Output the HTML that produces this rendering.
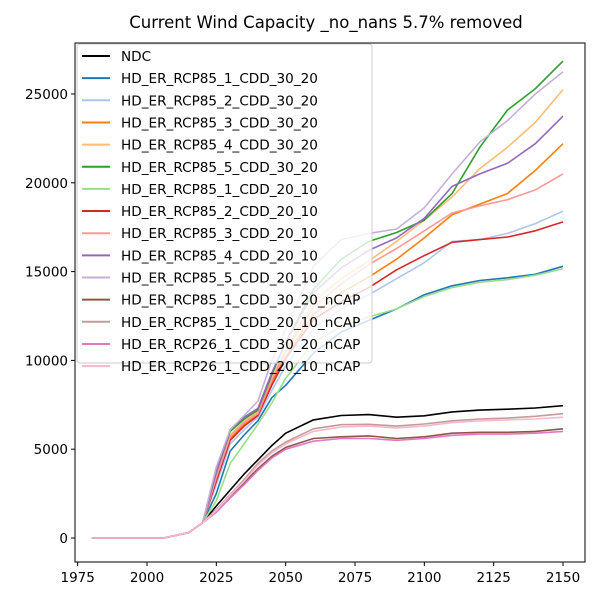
<!DOCTYPE html>
<html><head><meta charset="utf-8"><style>
body{margin:0;background:#fff}
svg text{font-family:"DejaVu Sans","Liberation Sans",sans-serif}
</style></head><body>
<svg id="chart" width="600" height="600" viewBox="0 0 600 600" xmlns="http://www.w3.org/2000/svg">
<rect width="600" height="600" fill="#fff"/>
<text x="326" y="28" font-size="16.5" text-anchor="middle">Current Wind Capacity _no_nans 5.7% removed</text>
<g id="lines"></g>
<rect x="75" y="43" width="510" height="519" fill="none" stroke="#000" stroke-width="1"/>
<g id="axes"></g>
<g id="legend"></g>
</svg>
<script>
const years = [1980,2000,2006,2015,2020,2025,2030,2035,2040,2045,2050,2060,2070,2080,2090,2100,2110,2120,2130,2140,2150];
const seriesNames = ["NDC","HD_ER_RCP85_1_CDD_30_20","HD_ER_RCP85_2_CDD_30_20","HD_ER_RCP85_3_CDD_30_20","HD_ER_RCP85_4_CDD_30_20","HD_ER_RCP85_5_CDD_30_20","HD_ER_RCP85_1_CDD_20_10","HD_ER_RCP85_2_CDD_20_10","HD_ER_RCP85_3_CDD_20_10","HD_ER_RCP85_4_CDD_20_10","HD_ER_RCP85_5_CDD_20_10","HD_ER_RCP85_1_CDD_30_20_nCAP","HD_ER_RCP85_1_CDD_20_10_nCAP","HD_ER_RCP26_1_CDD_30_20_nCAP","HD_ER_RCP26_1_CDD_20_10_nCAP"];
const seriesColors = ["#000000","#1f77b4","#aec7e8","#ff7f0e","#ffbb78","#2ca02c","#98df8a","#d62728","#ff9896","#9467bd","#c5b0d5","#8c564b","#c49c94","#e377c2","#f7b6d2"];
const ndc      = [0,0,0,300,850,1800,2700,3600,4400,5200,5900,6650,6900,6950,6800,6880,7100,7200,7250,7320,7450];
const r85_1_30 = [0,0,0,300,850,2500,4900,5800,6600,7900,8600,10400,11600,12250,12900,13700,14200,14500,14650,14850,15300];
const r85_2_30 = [0,0,0,300,850,3000,5300,6100,6800,8300,9700,11800,12900,13700,14600,15500,16700,16800,17150,17700,18400];
const r85_3_30 = [0,0,0,300,850,3300,5600,6400,7000,8800,10200,12600,13800,14700,15700,16900,18200,18800,19400,20700,22200];
const r85_4_30 = [0,0,0,300,850,3500,5800,6600,7100,9000,10600,13300,14600,15600,16700,17900,19200,20800,22000,23400,25250];
const r85_5_30 = [0,0,0,300,850,3700,6000,6700,7200,9200,11000,14000,15700,16700,17200,17900,19400,22000,24100,25300,26850];
const r85_1_20 = [0,0,0,300,850,2100,4200,5300,6400,7600,9000,11000,11900,12450,12900,13600,14100,14400,14550,14800,15150];
const r85_2_20 = [0,0,0,300,850,3200,5500,6300,6900,8600,10100,12300,13300,14100,15100,15900,16650,16800,16950,17300,17800];
const r85_3_20 = [0,0,0,300,850,3400,5700,6500,7000,8900,10500,13000,14300,15400,16300,17300,18300,18700,19050,19600,20500];
const r85_4_20 = [0,0,0,300,850,3700,6100,6800,7300,9300,11000,13800,15200,16200,16900,18000,19800,20500,21100,22200,23750];
const r85_5_20 = [0,0,0,300,850,4000,6100,6900,7700,10000,11800,15300,16800,17150,17400,18600,20500,22300,23500,25000,26250];
const r85_1_30n= [0,0,0,300,850,1500,2300,3100,3900,4600,5100,5600,5700,5750,5600,5700,5900,5950,5950,6000,6150];
const r85_1_20n= [0,0,0,300,850,1600,2450,3300,4200,4900,5400,6150,6380,6400,6300,6420,6600,6700,6750,6850,7000];
const r26_1_30n= [0,0,0,300,850,1450,2250,3000,3800,4500,5000,5450,5600,5600,5500,5600,5780,5850,5850,5900,6000];
const r26_1_20n= [0,0,0,300,850,1550,2400,3200,4100,4800,5300,6000,6250,6300,6200,6300,6500,6600,6650,6700,6800];
const seriesValues = [ndc,r85_1_30,r85_2_30,r85_3_30,r85_4_30,r85_5_30,r85_1_20,r85_2_20,r85_3_20,r85_4_20,r85_5_20,r85_1_30n,r85_1_20n,r26_1_30n,r26_1_20n];
const xTicks = [1975,2000,2025,2050,2075,2100,2125,2150];
const yTicks = [0,5000,10000,15000,20000,25000];

const NS="http://www.w3.org/2000/svg";
const xScale = y => 147 + (y-2000)*(416/150);
const yScale = v => 538 - v*0.01776;

const lines=document.getElementById('lines');
seriesValues.forEach((vals,i)=>{
  const p=document.createElementNS(NS,'polyline');
  p.setAttribute('points',vals.map((v,j)=>xScale(years[j]).toFixed(1)+','+yScale(v).toFixed(1)).join(' '));
  p.setAttribute('fill','none');
  p.setAttribute('stroke',seriesColors[i]);
  p.setAttribute('stroke-width','1.6');
  p.setAttribute('stroke-linejoin','round');
  
  
  lines.appendChild(p);
});

const axes=document.getElementById('axes');
xTicks.forEach(t=>{
  const x=xScale(t);
  const l=document.createElementNS(NS,'line');
  l.setAttribute('x1',x);l.setAttribute('x2',x);l.setAttribute('y1',562);l.setAttribute('y2',566);l.setAttribute('stroke','#000');
  
  
  axes.appendChild(l);
  const tx=document.createElementNS(NS,'text');
  tx.setAttribute('x',x);tx.setAttribute('y',582);tx.setAttribute('font-size','13.5');tx.setAttribute('text-anchor','middle');
  tx.textContent=t;
  
  
  axes.appendChild(tx);
});
yTicks.forEach(t=>{
  const y=yScale(t);
  const l=document.createElementNS(NS,'line');
  l.setAttribute('x1',71);l.setAttribute('x2',75);l.setAttribute('y1',y);l.setAttribute('y2',y);l.setAttribute('stroke','#000');
  
  
  axes.appendChild(l);
  const tx=document.createElementNS(NS,'text');
  tx.setAttribute('x',68);tx.setAttribute('y',y+5);tx.setAttribute('font-size','13.5');tx.setAttribute('text-anchor','end');
  tx.textContent=t;
  
  
  axes.appendChild(tx);
});

const lg=document.getElementById('legend');
const box=document.createElementNS(NS,'rect');
box.setAttribute('x',77);box.setAttribute('y',44);box.setAttribute('width',295);box.setAttribute('height',319);box.setAttribute('rx',3);
box.setAttribute('fill','rgba(255,255,255,0.8)');box.setAttribute('stroke','#ccc');


lg.appendChild(box);
seriesNames.forEach((n,i)=>{
  const y=56+i*22.15;
  const l=document.createElementNS(NS,'line');
  l.setAttribute('x1',82);l.setAttribute('x2',110);l.setAttribute('y1',y);l.setAttribute('y2',y);
  l.setAttribute('stroke',seriesColors[i]);l.setAttribute('stroke-width','2');
  
  
  lg.appendChild(l);
  const tx=document.createElementNS(NS,'text');
  tx.setAttribute('x',121);tx.setAttribute('y',y+5);tx.setAttribute('font-size','13.6');
  tx.textContent=n;
  
  
  lg.appendChild(tx);
});
</script>
</body></html>
